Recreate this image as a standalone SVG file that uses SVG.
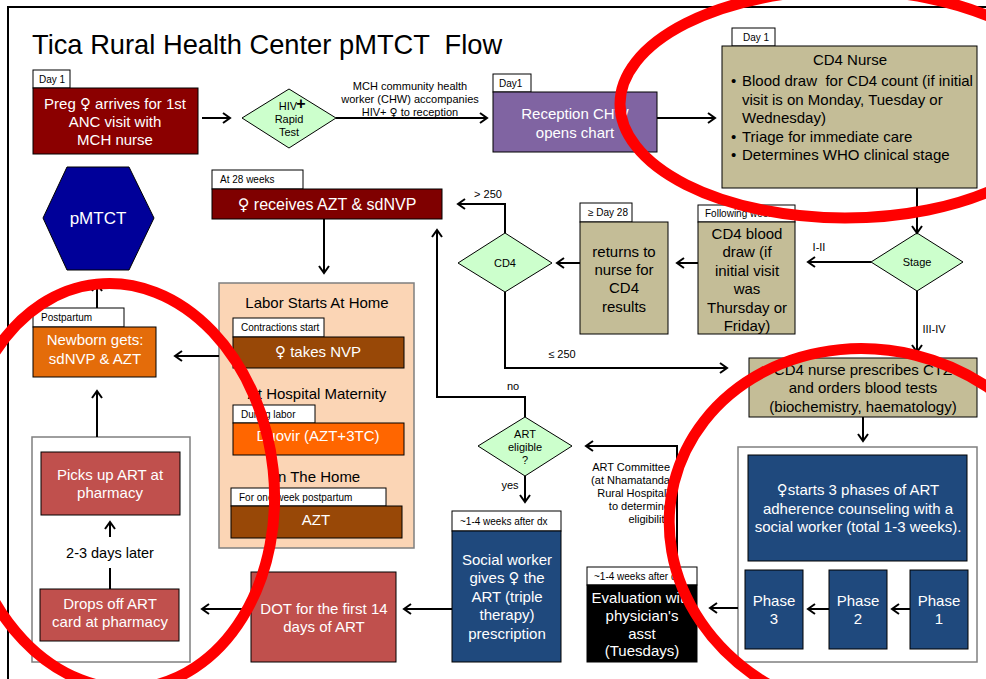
<svg xmlns="http://www.w3.org/2000/svg" width="986" height="679" viewBox="0 0 986 679">
<defs>
<marker id="ah" markerUnits="userSpaceOnUse" markerWidth="14" markerHeight="14" refX="11" refY="7" orient="auto">
<path d="M4,2 L11,7 L4,12" fill="none" stroke="#000" stroke-width="2"/>
</marker>
<style>
text{font-family:"Liberation Sans",Arial,"DejaVu Sans",sans-serif}
.fs{font-family:"DejaVu Sans",sans-serif}
.t15{font-size:15px;text-anchor:middle}
.w{fill:#fff}
.k{fill:#000}
.s11{font-size:11px;text-anchor:middle;fill:#000}
.tabt{font-size:10px;fill:#000}
.tab{fill:#fff;stroke:#000;stroke-width:1}
.box{stroke:#000;stroke-width:1}
.dia{fill:#CCFFCC;stroke:#000;stroke-width:1}
.tan{fill:#C4BD97;stroke:#000;stroke-width:1}
.red{fill:#C0504D;stroke:#000;stroke-width:1}
.blue{fill:#1F497D;stroke:#000;stroke-width:1}
.brown{fill:#984807;stroke:#000;stroke-width:1}
.ln{fill:none;stroke:#000;stroke-width:2}
.ar{fill:none;stroke:#000;stroke-width:2;marker-end:url(#ah)}
.ring{fill:none;stroke:#FF0000;stroke-width:11}
</style>
</defs>
<rect width="986" height="679" fill="#fff"/>
<rect x="8" y="7" width="1000" height="700" fill="none" stroke="#000" stroke-width="2"/>
<text x="32" y="54" xml:space="preserve" style="font-size:27.3px;white-space:pre" fill="#000">Tica Rural Health Center pMTCT  Flow</text>

<g id="preg-arrives">
<rect class="tab" x="33" y="70" width="37" height="18"/>
<text class="tabt" x="39" y="83">Day 1</text>
<rect class="box" x="33" y="88" width="165" height="66" fill="#8B0000"/>
<text class="t15 w" x="115" y="109">Preg <tspan class="fs">♀</tspan> arrives for 1st</text>
<text class="t15 w" x="115" y="127">ANC visit with</text>
<text class="t15 w" x="115" y="145">MCH nurse</text>
</g>

<g id="hiv-test">
<polygon class="dia" points="289,89 336,118 289,148 242,118"/>
<text class="s11" x="288" y="110">HIV</text>
<text x="301" y="109" style="font-size:16px;font-weight:bold;text-anchor:middle" fill="#000">+</text>
<text class="s11" x="289" y="123">Rapid</text>
<text class="s11" x="289" y="136">Test</text>
</g>

<g id="reception">
<rect class="tab" x="493" y="74" width="38" height="18"/>
<text class="tabt" x="499" y="87">Day1</text>
<rect class="box" x="493" y="92" width="164" height="60" fill="#8064A2"/>
<text class="t15 w" x="575" y="119">Reception CHW</text>
<text class="t15 w" x="575" y="138">opens chart</text>
</g>

<g id="cd4-nurse">
<rect class="tab" x="732" y="28" width="43" height="18"/>
<text class="tabt" x="743" y="41">Day 1</text>
<rect class="tan" x="722" y="46" width="255" height="142"/>
<text class="t15 k" x="850" y="65">CD4 Nurse</text>
<g style="font-size:15px;white-space:pre" fill="#000">
<text x="731" y="86">•</text><text x="742" y="86" xml:space="preserve">Blood draw  for CD4 count (if initial</text>
<text x="742" y="105">visit is on Monday, Tuesday or</text>
<text x="742" y="123">Wednesday)</text>
<text x="731" y="142">•</text><text x="742" y="142">Triage for immediate care</text>
<text x="731" y="160">•</text><text x="742" y="160">Determines WHO clinical stage</text>
</g>
</g>

<g id="stage">
<polygon class="dia" points="917,233 963,262 917,291 871,262"/>
<text class="s11" x="917" y="266">Stage</text>
</g>

<g id="cd4-blood-draw">
<rect class="tab" x="698" y="205" width="97" height="17"/>
<text class="tabt" x="705" y="217">Following week</text>
<rect class="tan" x="698" y="222" width="97" height="112"/>
<text class="t15 k" x="747" y="239">CD4 blood</text>
<text class="t15 k" x="747" y="257">draw (if</text>
<text class="t15 k" x="747" y="276">initial visit</text>
<text class="t15 k" x="747" y="294">was</text>
<text class="t15 k" x="747" y="313">Thursday or</text>
<text class="t15 k" x="747" y="331">Friday)</text>
</g>

<g id="returns">
<rect class="tab" x="580" y="203" width="52" height="19"/>
<text class="tabt" x="588" y="216">≥ Day 28</text>
<rect class="tan" x="580" y="222" width="88" height="112"/>
<text class="t15 k" x="624" y="257">returns to</text>
<text class="t15 k" x="624" y="275">nurse for</text>
<text class="t15 k" x="624" y="293">CD4</text>
<text class="t15 k" x="624" y="312">results</text>
</g>

<g id="cd4-decision">
<polygon class="dia" points="505,233 552,263 505,292 458,263"/>
<text class="s11" x="505" y="267">CD4</text>
</g>

<g id="receives-azt">
<rect class="tab" x="212" y="170" width="91" height="19"/>
<text class="tabt" x="220" y="183">At 28 weeks</text>
<rect class="box" x="212" y="189" width="230" height="30" fill="#7F0000"/>
<text x="327" y="210" style="font-size:16px;text-anchor:middle" fill="#fff"><tspan class="fs">♀</tspan> receives AZT &amp; sdNVP</text>
</g>

<g id="pmtct">
<polygon points="67,167 129,167 154,218 129,270 67,270 43,218" fill="#000099" stroke="#000" stroke-width="1"/>
<text x="98" y="224" style="font-size:17px;text-anchor:middle" fill="#fff">pMTCT</text>
</g>

<g id="labor">
<rect x="219" y="283" width="195" height="265" fill="#FBD5B5" stroke="#7F7F7F" stroke-width="1.5"/>
<text class="t15 k" x="317" y="308">Labor Starts At Home</text>
<rect class="tab" x="233" y="318" width="91" height="19"/>
<text class="tabt" x="241" y="331">Contractions start</text>
<rect class="brown" x="233" y="337" width="171" height="31"/>
<text class="t15 w" x="318" y="357"><tspan class="fs">♀</tspan> takes NVP</text>
<text class="t15 k" x="317" y="399">At Hospital Maternity</text>
<rect class="tab" x="233" y="405" width="82" height="18"/>
<text class="tabt" x="241" y="418">During labor</text>
<rect class="box" x="233" y="423" width="171" height="32" fill="#FF6600"/>
<text class="t15 w" x="318" y="441">Duovir (AZT+3TC)</text>
<text class="t15 k" x="317" y="482">In The Home</text>
<rect class="tab" x="231" y="488" width="155" height="18"/>
<text class="tabt" x="239" y="501">For one week postpartum</text>
<rect class="brown" x="231" y="506" width="171" height="32"/>
<text class="t15 w" x="316" y="525">AZT</text>
</g>

<g id="newborn">
<rect class="tab" x="33" y="308" width="91" height="19"/>
<text class="tabt" x="41" y="321">Postpartum</text>
<rect class="box" x="33" y="327" width="123" height="50" fill="#E46C0A"/>
<text class="t15 w" x="95" y="345">Newborn gets:</text>
<text class="t15 w" x="95" y="364">sdNVP &amp; AZT</text>
</g>

<g id="pharmacy">
<rect x="32" y="437" width="158" height="225" fill="#fff" stroke="#7F7F7F" stroke-width="1.5"/>
<rect class="red" x="41" y="452" width="139" height="63"/>
<text class="t15 w" x="110" y="480">Picks up ART at</text>
<text class="t15 w" x="110" y="498">pharmacy</text>
<text x="110" y="558" style="font-size:14.5px;text-anchor:middle" fill="#000">2-3 days later</text>
<rect class="red" x="40" y="589" width="139" height="52"/>
<text class="t15 w" x="110" y="609">Drops off ART</text>
<text class="t15 w" x="110" y="627">card at pharmacy</text>
</g>

<g id="dot">
<rect class="red" x="251" y="572" width="145" height="90"/>
<text class="t15 w" x="324" y="614">DOT for the first 14</text>
<text class="t15 w" x="324" y="632">days of ART</text>
</g>

<g id="social-worker">
<rect class="tab" x="452" y="511" width="109" height="20"/>
<text class="tabt" x="460" y="525">~1-4 weeks after dx</text>
<rect class="blue" x="452" y="531" width="109" height="131"/>
<text class="t15 w" x="507" y="565">Social worker</text>
<text class="t15 w" x="507" y="583">gives <tspan class="fs">♀</tspan> the</text>
<text class="t15 w" x="507" y="602">ART (triple</text>
<text class="t15 w" x="507" y="620">therapy)</text>
<text class="t15 w" x="507" y="639">prescription</text>
</g>

<g id="art-eligible">
<polygon class="dia" points="525,417 572,446 525,476 478,446"/>
<text class="s11" x="525" y="438">ART</text>
<text class="s11" x="525" y="451">eligible</text>
<text class="s11" x="525" y="464">?</text>
</g>

<g id="evaluation">
<rect class="tab" x="587" y="567" width="110" height="18"/>
<text class="tabt" x="594" y="580">~1-4 weeks after dx</text>
<rect class="box" x="587" y="585" width="110" height="77" fill="#000"/>
<text class="t15 w" x="642" y="603">Evaluation with</text>
<text class="t15 w" x="642" y="621">physician's</text>
<text class="t15 w" x="642" y="639">asst</text>
<text class="t15 w" x="642" y="656">(Tuesdays)</text>
</g>

<g id="cd4-prescribes">
<rect class="tan" x="749" y="358" width="228" height="59"/>
<text class="t15 k" x="863" y="375">CD4 nurse prescribes CTZ</text>
<text class="t15 k" x="863" y="393">and orders blood tests</text>
<text class="t15 k" x="863" y="412">(biochemistry, haematology)</text>
</g>

<g id="counseling">
<rect x="738" y="447" width="239" height="215" fill="#fff" stroke="#7F7F7F" stroke-width="1.5"/>
<rect class="blue" x="748" y="455" width="219" height="106"/>
<text class="t15 w" x="858" y="495"><tspan class="fs">♀</tspan>starts 3 phases of ART</text>
<text class="t15 w" x="858" y="514">adherence counseling with a</text>
<text class="t15 w" x="858" y="532">social worker (total 1-3 weeks).</text>
</g>
<g id="phase3">
<rect class="blue" x="745" y="570" width="58" height="79"/>
<text class="t15 w" x="774" y="606">Phase</text>
<text class="t15 w" x="774" y="624">3</text>
</g>
<g id="phase2">
<rect class="blue" x="829" y="570" width="58" height="79"/>
<text class="t15 w" x="858" y="606">Phase</text>
<text class="t15 w" x="858" y="624">2</text>
</g>
<g id="phase1">
<rect class="blue" x="910" y="570" width="58" height="79"/>
<text class="t15 w" x="939" y="606">Phase</text>
<text class="t15 w" x="939" y="624">1</text>
</g>

<g id="connectors">
<path class="ar" d="M202,118 H230"/>
<path class="ar" d="M336,118 H487"/>
<path class="ar" d="M657,118 H715"/>
<path class="ar" d="M917,188 V233"/>
<path class="ar" d="M871,262 H808"/>
<path class="ar" d="M917,291 V352"/>
<path class="ar" d="M698,263 H677"/>
<path class="ar" d="M580,263 H557"/>
<path class="ar" d="M505,233 V204 H458"/>
<path class="ar" d="M505,292 V368 H727"/>
<path class="ar" d="M324,219 V273"/>
<path class="ar" d="M219,356 H175"/>
<path class="ar" d="M97,308 V284"/>
<path class="ar" d="M97,437 V391"/>
<path class="ar" d="M110,537 V522"/>
<path class="ln" d="M110,568 V589"/>
<path class="ar" d="M251,609 H202"/>
<path class="ar" d="M452,609 H404"/>
<path class="ar" d="M677,566 V446 H586"/>
<path class="ar" d="M525,417 V397 H437 V230"/>
<path class="ar" d="M525,476 V502"/>
<path class="ar" d="M863,417 V441"/>
<path class="ar" d="M738,608 H710"/>
<path class="ar" d="M829,609 H808"/>
<path class="ar" d="M910,609 H892"/>
<text class="s11" x="410" y="90">MCH community health</text>
<text class="s11" x="410" y="103">worker (CHW) accompanies</text>
<text class="s11" x="410" y="116">HIV+ <tspan class="fs">♀</tspan> to reception</text>
<text class="s11" x="819" y="251">I-II</text>
<text class="s11" x="934" y="333">III-IV</text>
<text class="s11" x="488" y="198">&gt; 250</text>
<text class="s11" x="562" y="358">≤ 250</text>
<text class="s11" x="513" y="390">no</text>
<text class="s11" x="510" y="489">yes</text>
<g style="font-size:11px;text-anchor:end" fill="#000">
<text x="670" y="471">ART Committee</text>
<text x="670" y="484">(at Nhamatanda</text>
<text x="670" y="497">Rural Hospital)</text>
<text x="670" y="510">to determine</text>
<text x="670" y="523">eligibility</text>
</g>
</g>

<g id="highlights">
<ellipse class="ring" cx="845" cy="104" rx="225" ry="114"/>
<ellipse class="ring" cx="118" cy="486" rx="156" ry="203" transform="rotate(-6 118 486)"/>
<ellipse class="ring" cx="872" cy="532" rx="204" ry="182" transform="rotate(14 872 532)"/>
</g>
</svg>
